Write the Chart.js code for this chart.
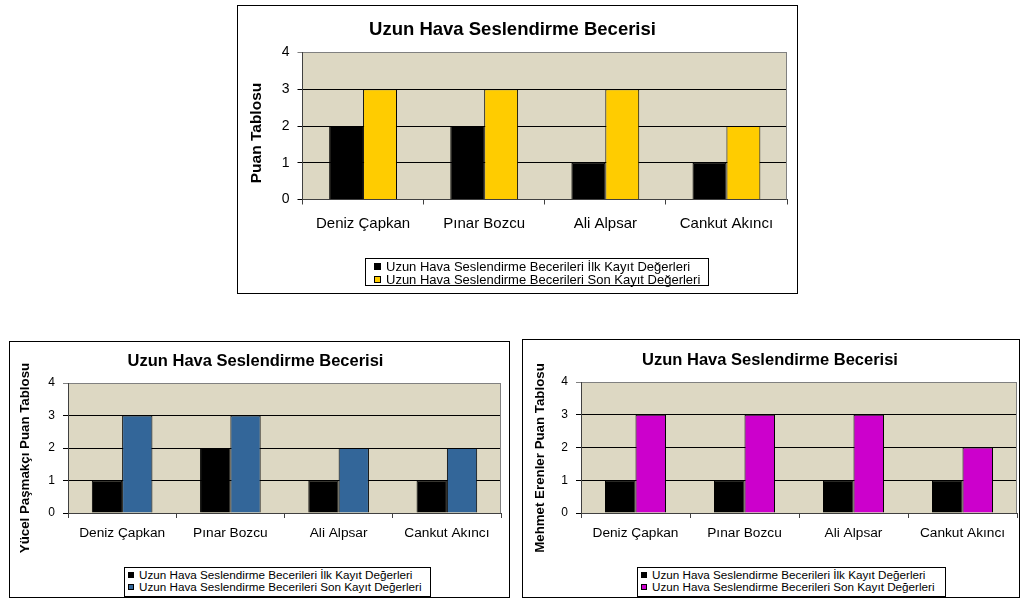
<!DOCTYPE html>
<html>
<head>
<meta charset="utf-8">
<script src="https://cdn.jsdelivr.net/npm/chart.js@4/dist/chart.umd.min.js"></script>
<style>
  body { margin: 0; width: 1020px; height: 599px; background: #fff; position: relative; overflow: hidden;
         font-family: "Liberation Sans", Arial, sans-serif; }
  .box { position: absolute; box-sizing: border-box; border: 1px solid #000; background: #fff; }
  .box canvas { position: absolute; left: 0; top: 0; }
  .legend { position: absolute; box-sizing: border-box; border: 1px solid #000; background: #fff; color: #000; white-space: nowrap; }
  .legend .row { display: flex; align-items: center; }
  .legend .mark { display: inline-block; box-sizing: border-box; border: 1px solid #000; flex: none; }
</style>
</head>
<body>
<script>
// data
const categories = ["Deniz Çapkan", "Pınar Bozcu", "Ali Alpsar", "Cankut Akıncı"];
const seriesNames = [
  "Uzun Hava Seslendirme Becerileri İlk Kayıt Değerleri",
  "Uzun Hava Seslendirme Becerileri Son Kayıt Değerleri"
];
const chartTitle = "Uzun Hava Seslendirme Becerisi";
const yTicks = [0, 1, 2, 3, 4];
const axisTitles = ["Puan Tablosu", "Yücel Paşmakçı Puan Tablosu", "Mehmet Erenler Puan Tablosu"];

const firstTop = [2, 2, 1, 1];
const lastTop = [3, 3, 3, 2];
const firstLeft = [1, 2, 1, 1];
const lastLeft = [3, 3, 2, 2];
const firstRight = [1, 1, 1, 1];
const lastRight = [3, 3, 3, 2];

const FONT = '"Liberation Sans", Arial, sans-serif';

// layout of the three panels (box = left, top, width, height of the outer frame)
const panels = [
  { box: [237, 5, 561, 289], first: firstTop, last: lastTop, color: "#FFCC00", yTitle: axisTitles[0],
    plot: { left: 64.5, right: 549, top: 46.5, bottom: 193.5 },
    titleSize: 18.5, titlePad: 13, yTitle_: { x: 19, y: 127, size: 15.5 }, tickSize: 14, tickPad: 8,
    catSize: 15, catPad: 10,
    legend: { left: 127, top: 252, width: 344, height: 28, size: 13, line: 13, mark: 7, gap: 8, textGap: 5 } },
  { box: [9, 341, 501, 257], first: firstLeft, last: lastLeft, color: "#336699", yTitle: axisTitles[1],
    plot: { left: 58, right: 491, top: 41, bottom: 171 },
    titleSize: 16.5, titlePad: 9.5, yTitle_: { x: 15, y: 116, size: 13.3 }, tickSize: 12, tickPad: 8,
    catSize: 13.7, catPad: 7,
    legend: { left: 114, top: 225, width: 307, height: 30, size: 11.7, line: 12, mark: 6, gap: 3, textGap: 5 } },
  { box: [522, 339, 498, 259], first: firstRight, last: lastRight, color: "#CC00CC", yTitle: axisTitles[2],
    plot: { left: 58, right: 494, top: 42, bottom: 173 },
    titleSize: 16.5, titlePad: 11, yTitle_: { x: 17, y: 118, size: 13.3 }, tickSize: 12, tickPad: 8,
    catSize: 13.7, catPad: 7,
    legend: { left: 114, top: 227, width: 309, height: 30, size: 11.7, line: 12, mark: 6, gap: 3, textGap: 5 } }
];

// tan plot area + grey right edge like the old Excel charts
const plotBackground = {
  id: "plotBackground",
  beforeDatasetsDraw(chart) {
    const { ctx, chartArea: a } = chart;
    ctx.save();
    ctx.globalCompositeOperation = "destination-over";
    ctx.fillStyle = "#DDD8C3";
    ctx.fillRect(a.left, a.top, a.right - a.left, a.bottom - a.top);
    ctx.restore();
  },
  afterDraw(chart) {
    const { ctx, chartArea: a } = chart;
    ctx.save();
    ctx.strokeStyle = "#808080";
    ctx.lineWidth = 1;
    ctx.beginPath();
    const x = Math.round(a.right) - 0.5;
    ctx.moveTo(x, a.top);
    ctx.lineTo(x, a.bottom);
    ctx.stroke();
    ctx.restore();
  }
};

// vertical axis title, placed where the original has it (a bit below the plot centre)
const yAxisTitle = {
  id: "yAxisTitle",
  afterDraw(chart, args, opts) {
    const { ctx } = chart;
    ctx.save();
    ctx.translate(opts.x, opts.y);
    ctx.rotate(-Math.PI / 2);
    ctx.font = "bold " + opts.size + "px " + FONT;
    ctx.fillStyle = "#000";
    ctx.textAlign = "center";
    ctx.textBaseline = "middle";
    ctx.fillText(opts.text, 0, 0);
    ctx.restore();
  }
};

function buildLegend(chart, wrap, lg) {
  const box = document.createElement("div");
  box.className = "legend";
  Object.assign(box.style, {
    left: lg.left + "px", top: lg.top + "px", width: lg.width + "px", height: lg.height + "px",
    fontSize: lg.size + "px", lineHeight: lg.line + "px", paddingTop: "1px", paddingLeft: lg.gap + "px"
  });
  chart.data.datasets.forEach((ds) => {
    const row = document.createElement("div");
    row.className = "row";
    const mark = document.createElement("span");
    mark.className = "mark";
    Object.assign(mark.style, { width: lg.mark + "px", height: lg.mark + "px", background: ds.backgroundColor, marginRight: lg.textGap + "px" });
    const txt = document.createElement("span");
    txt.textContent = ds.label;
    row.appendChild(mark);
    row.appendChild(txt);
    box.appendChild(row);
  });
  wrap.appendChild(box);
}

function makeChart(p) {
  const wrap = document.createElement("div");
  wrap.className = "box";
  Object.assign(wrap.style, { left: p.box[0] + "px", top: p.box[1] + "px", width: p.box[2] + "px", height: p.box[3] + "px" });
  document.body.appendChild(wrap);

  const cw = p.box[2] - 2, ch = p.box[3] - 2;
  const canvas = document.createElement("canvas");
  canvas.width = cw;
  canvas.height = ch;
  canvas.style.width = cw + "px";
  canvas.style.height = ch + "px";
  wrap.appendChild(canvas);

  const titleLine = p.titleSize * 1.2;

  const chart = new Chart(canvas, {
    type: "bar",
    data: {
      labels: categories,
      datasets: [
        { label: seriesNames[0], data: p.first, backgroundColor: "#000000", borderColor: "#000000", borderWidth: 1 },
        { label: seriesNames[1], data: p.last, backgroundColor: p.color, borderColor: "#000000", borderWidth: 1 }
      ]
    },
    options: {
      responsive: false,
      animation: false,
      devicePixelRatio: 1,
      layout: { padding: { left: 0, right: cw - p.plot.right, top: 0, bottom: 0 } },
      datasets: { bar: { categoryPercentage: 0.56, barPercentage: 1 } },
      plugins: {
        legend: { display: false },
        tooltip: { enabled: false },
        title: {
          display: true,
          text: chartTitle,
          color: "#000",
          font: { family: FONT, size: p.titleSize, weight: "bold" },
          padding: { top: p.titlePad, bottom: p.plot.top - p.titlePad - titleLine }
        },
        yAxisTitle: { text: p.yTitle, x: p.yTitle_.x, y: p.yTitle_.y, size: p.yTitle_.size }
      },
      scales: {
        x: {
          grid: { display: true, drawOnChartArea: false, drawTicks: true, tickLength: 5, color: "#404040", offset: true },
          border: { color: "#404040" },
          ticks: { color: "#000", font: { family: FONT, size: p.catSize }, padding: p.catPad, maxRotation: 0, autoSkip: false },
          afterFit(s) { s.height = ch - p.plot.bottom; }
        },
        y: {
          min: 0,
          max: 4,
          afterBuildTicks(s) { s.ticks = yTicks.map((v) => ({ value: v })); },
          grid: {
            color: (c) => (c.tick && c.tick.value === 4 ? "#808080" : "#000000"),
            tickLength: 5
          },
          border: { color: "#404040" },
          ticks: { color: "#000", font: { family: FONT, size: p.tickSize }, padding: p.tickPad },
          afterFit(s) { s.width = p.plot.left; }
        }
      }
    },
    plugins: [plotBackground, yAxisTitle]
  });

  buildLegend(chart, wrap, p.legend);
}

panels.forEach(makeChart);
</script>
</body>
</html>
